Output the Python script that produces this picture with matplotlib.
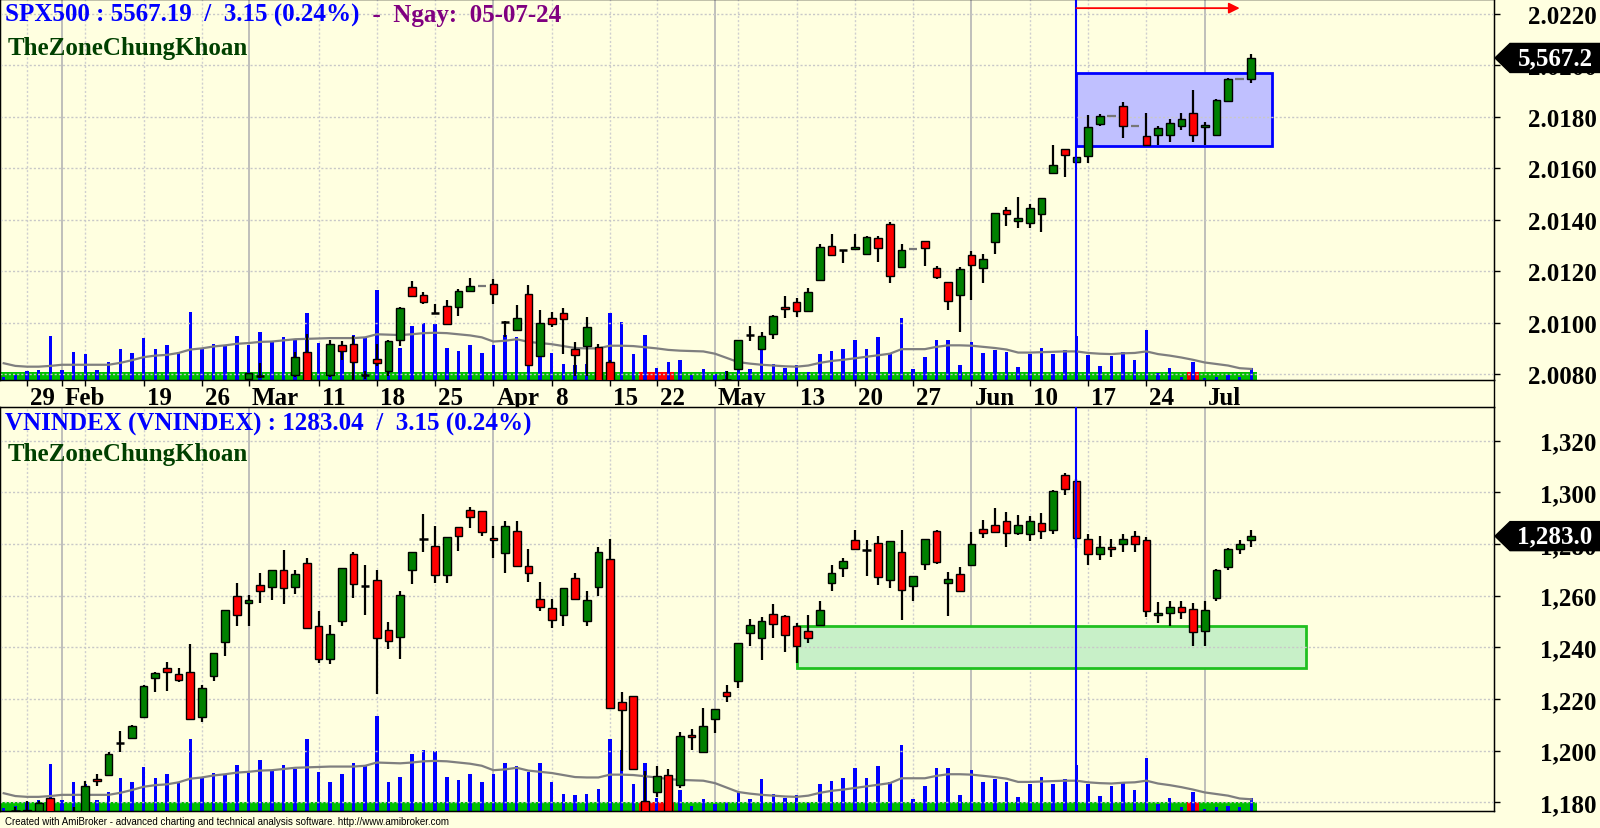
import numpy as np
import pandas as pd
import matplotlib
matplotlib.use("Agg")
import matplotlib.pyplot as plt
import matplotlib.transforms as mtransforms
from matplotlib.patches import Rectangle, Polygon
from matplotlib.lines import Line2D

plt.rcParams['font.family'] = ['Liberation Serif', 'DejaVu Serif']

# ---------------- calendar (HOSE trading days) ----------------
vn_holidays = ['2024-02-08', '2024-02-09', '2024-02-12', '2024-02-13', '2024-02-14',
               '2024-04-18', '2024-04-29', '2024-04-30', '2024-05-01']
dates = pd.bdate_range('2024-01-25', '2024-07-05')
dates = dates[~dates.isin(pd.to_datetime(vn_holidays))]
bar_x = np.arange(len(dates)) - 2          # Jan 29 -> 0

tick_dates = ['2024-01-29', '2024-02-01', '2024-02-05', '2024-02-19', '2024-02-26', '2024-03-01',
              '2024-03-11', '2024-03-18', '2024-03-25', '2024-04-01', '2024-04-08', '2024-04-15',
              '2024-04-22', '2024-05-02', '2024-05-06', '2024-05-13', '2024-05-20', '2024-05-27',
              '2024-06-03', '2024-06-10', '2024-06-17', '2024-06-24', '2024-07-01']
tick_labels = ['29', 'Feb', '', '19', '26', 'Mar', '11', '18', '25', 'Apr', '8', '15', '22',
               'May', '', '13', '20', '27', 'Jun', '10', '17', '24', 'Jul']
month_starts = ['2024-02-01', '2024-03-01', '2024-04-01', '2024-05-02', '2024-06-03', '2024-07-01']

nan = np.nan
# ---------------- SPX500 (chart scale: 2.0 + value/10000) ----------------
spx_open = [nan]*21 + [78.1, 79.3, nan, nan, 79.6, 88.4, nan, 79.7, 91.3, 91.7, 79.7, 85.8, 81.3, 93.3,
    113.7, 110.7, 103.7, 106.6, 106.2, 112.2, 114.1, 115.0, 100.2, 97.2, 111.1, 87.1, 101.7, 103.6,
    89.7, 90.8, 90.4, 84.6] + [nan]*9 + [77.7, 81.9, 95.2, 89.7, 95.6, 105.9, 108.1, 104.6, 116.6,
    129.9, 128.2, 128.6, 126.7, 132.8, 138.3, 121.7, 128.6, 131.6, 121.1, 115.7, 110.7, 126.3, 121.1,
    131.2, 143.8, 139.6, 138.7, 142.2, 158.2, 167.5, 162.3, 164.6, 177.3, 180.3, 184.1, 176.3, 172.4,
    172.8, 172.8, 176.6, 181.4, 176.1, 172.8, 186.1, 194.7, 194.7]
spx_high = [nan]*21 + [80.4, 84.3, nan, nan, 88.6, 95.6, nan, 93.2, 92.7, 94.7, 81.2, 91.7, 93.2, 105.9,
    116.1, 111.8, 107.2, 108.8, 113.1, 117.2, 114.1, 116.9, 100.8, 106.8, 114.6, 104.9, 104.0, 105.7,
    92.3, 102.2, 91.7, 85.4] + [nan]*9 + [81.3, 93.2, 98.8, 96.5, 102.9, 110.2, 109.4, 113.3, 130.6,
    134.4, 128.2, 134.4, 133.8, 133.8, 139.2, 130.4, 128.6, 131.6, 122.1, 115.7, 121.5, 128.0, 126.6,
    142.6, 144.8, 148.7, 146.1, 148.6, 169.1, 167.5, 164.3, 180.7, 181.1, 180.3, 185.8, 176.3, 181.5,
    176.3, 179.2, 181.4, 190.6, 178.1, 186.9, 195.1, 194.7, 204.4]
spx_low = [nan]*21 + [78.1, 78.4, nan, nan, 78.8, 75.7, nan, 78.8, 85.6, 77.8, 78.1, 83.2, 79.3, 90.8,
    110.5, 107.2, 103.7, 99.4, 102.7, 111.8, 114.1, 107.2, 94.4, 97.2, 83.6, 87.1, 98.2, 87.8,
    79.3, 79.3, 75.3, 75.3] + [nan]*9 + [77.7, 81.9, 93.0, 89.7, 93.6, 101.8, 102.1, 104.6, 116.6,
    126.3, 123.1, 128.2, 126.7, 123.7, 115.4, 121.7, 128.6, 122.1, 116.9, 105.0, 96.5, 108.9, 115.3,
    126.7, 137.7, 136.7, 136.7, 135.3, 158.1, 156.5, 162.3, 161.9, 176.3, 180.3, 171.7, 176.3, 169.1,
    169.1, 170.3, 175.0, 170.3, 169.1, 172.4, 186.1, 194.7, 193.2]
spx_close = [nan]*21 + [80.4, 79.3, nan, nan, 86.7, 76.1, nan, 91.7, 89.1, 84.6, 79.7, 84.3, 92.7, 105.6,
    110.5, 108.1, 103.7, 99.4, 112.4, 114.1, 114.1, 111.1, 100.2, 101.7, 83.6, 99.8, 99.4, 101.4,
    87.4, 98.3, 75.7, 75.7] + [nan]*9 + [77.7, 93.2, 95.2, 94.9, 102.7, 105.3, 104.6, 111.8, 129.3,
    126.3, 128.2, 129.3, 133.2, 129.0, 118.0, 128.3, 128.6, 129.0, 117.6, 108.5, 120.8, 122.5, 124.7,
    142.6, 142.2, 140.6, 144.4, 148.6, 161.4, 165.3, 164.3, 176.2, 180.3, 180.3, 176.3, 176.3, 169.1,
    175.5, 177.6, 179.2, 172.8, 176.8, 186.4, 194.7, 194.7, 202.9]

# ---------------- VNINDEX ----------------
vn_open = [nan, 1176.7, 1177.1, 1176.6, 1181.6, nan, 1175.0, 1174.5, 1189.1, 1190.8, 1203.0, 1204.8,
    1213.2, 1228.0, 1231.9, 1229.7, 1230.6, 1213.0, 1229.1, 1242.0, 1259.8, 1257.1, 1264.3, 1263.2,
    1270.0, 1263.2, 1272.5, 1248.4, 1235.5, 1250.3, 1276.1, 1263.9, 1266.2, 1246.6, 1244.1, 1270.1,
    1281.9, 1279.1, 1268.1, 1286.5, 1293.3, 1292.9, 1282.3, 1276.4, 1285.1, 1271.6, 1258.7, 1255.1,
    1252.6, 1266.7, 1250.1, 1263.2, 1274.2, 1218.8, 1221.3, 1180.7, 1183.9, 1190.6, 1186.8, 1206.2,
    1199.7, 1212.3, 1222.6, 1227.1, 1245.6, 1243.6, 1252.9, 1252.0, 1248.2, 1246.2, 1248.7, 1264.9,
    1270.6, 1281.5, 1277.8, 1280.4, 1266.1, 1276.8, 1263.6, 1272.3, 1284.9, 1264.8, 1268.4, 1272.0,
    1285.8, 1287.4, 1288.8, 1284.1, 1284.0, 1288.0, 1285.5, 1306.5, 1304.5, 1282.0, 1276.0, 1279.0,
    1280.0, 1283.0, 1281.5, 1252.6, 1253.2, 1255.8, 1255.0, 1246.2, 1259.0, 1271.0, 1278.0, 1281.5]
vn_high = [nan, 1178.3, 1180.7, 1180.7, 1181.6, nan, 1178.1, 1188.4, 1191.0, 1199.7, 1207.5, 1210.1,
    1225.6, 1230.6, 1234.5, 1232.0, 1241.3, 1225.5, 1237.8, 1254.6, 1264.8, 1260.3, 1268.7, 1270.1,
    1277.7, 1270.1, 1274.5, 1254.2, 1248.7, 1270.7, 1276.8, 1271.9, 1270.1, 1249.7, 1261.7, 1276.8,
    1291.6, 1286.8, 1282.6, 1286.5, 1294.2, 1292.9, 1286.8, 1289.0, 1289.0, 1278.1, 1265.4, 1258.7,
    1262.9, 1268.8, 1261.9, 1278.7, 1281.9, 1222.6, 1221.3, 1192.3, 1194.2, 1193.0, 1207.4, 1208.4,
    1216.6, 1216.2, 1225.6, 1241.7, 1251.0, 1251.6, 1256.8, 1252.6, 1249.4, 1252.6, 1257.8, 1271.9,
    1274.5, 1285.4, 1281.5, 1283.2, 1281.3, 1285.4, 1267.5, 1281.9, 1285.5, 1269.1, 1271.0, 1284.5,
    1289.4, 1293.9, 1292.3, 1291.3, 1291.0, 1292.0, 1301.0, 1307.3, 1305.0, 1284.0, 1283.0, 1282.0,
    1284.0, 1285.0, 1282.7, 1257.5, 1258.0, 1258.0, 1257.0, 1258.0, 1270.5, 1278.5, 1281.5, 1285.5]
vn_low = [nan, 1175.2, 1175.5, 1175.5, 1174.5, nan, 1174.0, 1174.0, 1186.3, 1190.8, 1199.4, 1204.8,
    1213.2, 1222.9, 1223.3, 1226.7, 1212.3, 1211.0, 1226.9, 1236.8, 1248.2, 1248.2, 1257.2, 1258.3,
    1256.8, 1260.7, 1247.5, 1234.0, 1233.6, 1248.2, 1259.1, 1252.6, 1222.0, 1239.4, 1235.5, 1264.5,
    1276.8, 1264.9, 1264.9, 1277.4, 1286.1, 1283.2, 1274.5, 1268.8, 1271.6, 1265.4, 1254.2, 1247.4,
    1248.2, 1258.7, 1248.4, 1259.8, 1216.6, 1192.3, 1192.9, 1175.5, 1182.0, 1175.5, 1185.5, 1200.3,
    1199.1, 1206.8, 1218.8, 1224.3, 1240.7, 1235.2, 1243.6, 1238.1, 1233.8, 1241.6, 1248.7, 1261.7,
    1267.1, 1278.1, 1267.7, 1264.3, 1262.9, 1250.7, 1257.8, 1270.0, 1272.3, 1252.3, 1261.7, 1272.0,
    1282.3, 1284.8, 1279.0, 1283.6, 1281.0, 1282.0, 1284.0, 1299.0, 1278.5, 1272.0, 1274.0, 1275.0,
    1277.0, 1277.0, 1251.6, 1249.5, 1248.4, 1251.0, 1240.7, 1240.7, 1258.1, 1270.0, 1276.0, 1279.0]
vn_close = [nan, 1176.7, 1176.2, 1179.9, 1175.0, nan, 1174.5, 1186.3, 1188.4, 1198.8, 1203.0, 1209.7,
    1225.0, 1230.1, 1230.4, 1227.5, 1212.3, 1224.2, 1237.8, 1254.6, 1252.6, 1258.3, 1261.7, 1270.1,
    1262.9, 1268.4, 1247.5, 1235.5, 1245.2, 1270.7, 1264.5, 1263.9, 1243.6, 1242.6, 1260.3, 1276.8,
    1281.9, 1268.1, 1282.6, 1283.2, 1290.3, 1284.5, 1281.7, 1287.1, 1271.6, 1268.7, 1255.5, 1250.6,
    1262.9, 1258.7, 1258.3, 1276.8, 1216.6, 1215.9, 1192.9, 1176.2, 1190.1, 1176.8, 1205.6, 1205.2,
    1209.5, 1216.2, 1221.3, 1241.7, 1248.7, 1250.3, 1249.1, 1244.9, 1240.4, 1243.5, 1254.5, 1268.8,
    1273.3, 1278.1, 1277.8, 1267.1, 1281.3, 1262.2, 1267.5, 1281.9, 1272.9, 1266.5, 1261.7, 1280.0,
    1284.1, 1284.8, 1284.1, 1287.5, 1289.0, 1285.0, 1300.5, 1301.3, 1282.3, 1276.0, 1279.0, 1278.0,
    1282.0, 1280.0, 1254.2, 1253.2, 1255.6, 1253.6, 1245.8, 1254.6, 1270.0, 1278.0, 1280.0, 1283.04]

# ---------------- volume (shared by both panes) ----------------
volume = [53, 96, 184, 208, 928, 216, 584, 536, 216, 384, 656, 568, 880, 656, 736, 584, 1432, 648,
    752, 736, 920, 744, 1008, 800, 912, 840, 1416, 776, 584, 736, 952, 912, 1888, 568, 680, 1128,
    1200, 1184, 680, 608, 728, 568, 736, 952, 896, 776, 952, 568, 336, 320, 336, 432, 1416, 1216,
    536, 952, 248, 384, 416, 104, 240, 136, 184, 384, 240, 632, 336, 256, 320, 168, 536, 600, 648,
    848, 648, 896, 568, 1304, 240, 488, 848, 848, 320, 808, 568, 624, 584, 280, 544, 672, 544, 632,
    920, 528, 304, 496, 584, 416, 1056, 144, 248, 72, 384, 32, 72, 104, 72, 248]
volume_ma = [352, 296, 280, 280, 296, 320, 320, 320, 320, 320, 360, 416, 480, 512, 528, 568, 640,
    664, 704, 728, 760, 776, 800, 808, 832, 856, 864, 872, 880, 880, 880, 896, 960, 952, 944, 960,
    984, 992, 984, 960, 936, 896, 808, 824, 856, 800, 776, 752, 712, 672, 664, 664, 720, 720, 712,
    688, 664, 632, 616, 608, 600, 552, 464, 376, 344, 320, 304, 288, 280, 304, 360, 400, 424, 456,
    488, 520, 552, 648, 648, 648, 696, 728, 728, 720, 696, 672, 640, 576, 576, 584, 592, 600, 600,
    568, 552, 544, 560, 568, 600, 544, 512, 472, 424, 368, 336, 304, 248, 232]
band_red_dates = ['2024-04-19', '2024-04-22', '2024-04-23', '2024-06-28']

# annotations
event_date = '2024-06-14'
spx_box = dict(x1=106.8, lo=168.8, hi=196.9)
vn_box = dict(x0=66, x1=109.7, lo=1231.9, hi=1248.4)
arrow_end = 104

# ---------------- styling ----------------
BG = '#ffffe0'
GREEN = '#008000'
RED = '#ff0000'
W, H = 1600, 829
def fx(px): return px / W
def fy(py): return 1 - py / H

fig = plt.figure(figsize=(W / 100, H / 100), dpi=100, facecolor=BG)
XL = (-2.316, 125.81)
VOL_MAX = 8000
band_red = np.isin(dates, pd.to_datetime(band_red_dates))
tick_x = [bar_x[dates.get_loc(pd.Timestamp(d))] for d in tick_dates]
tick_solid = [d in month_starts for d in tick_dates]
event_x = bar_x[dates.get_loc(pd.Timestamp(event_date))]


def panel(rect, o, h, l, c, ylim, yticks, fmt, marker_text):
    o, h, l, c = map(np.asarray, (o, h, l, c))
    axv = fig.add_axes(rect)
    axv.set_facecolor(BG)
    axv.set_xlim(XL)
    axv.set_ylim(0, VOL_MAX)
    axv.tick_params(left=False, labelleft=False)
    for xi, solid in zip(tick_x, tick_solid):
        axv.axvline(xi, color='#b4b4b4' if solid else '#cfcfcf', lw=1.2 if solid else 1.0,
                    ls='-' if solid else (0, (1.5, 1.5)), zorder=0.5)
    tr = mtransforms.blended_transform_factory(axv.transData, axv.transAxes)
    for xi, red in zip(bar_x, band_red):
        axv.add_patch(Rectangle((xi - 0.5, 0), 1, 0.022, transform=tr,
                                fc=RED if red else '#00c000', ec='none', zorder=1))
    axv.bar(bar_x, volume, width=0.3, color='#0000ff', zorder=2)
    axv.plot(bar_x, volume_ma, color='#7f7f7f', lw=1.6, zorder=3)
    for s in axv.spines.values():
        s.set_color('black'); s.set_linewidth(1)

    ax = axv.twinx()
    ax.set_ylim(ylim)
    ax.set_xlim(XL)
    ax.set_axisbelow(True)
    ax.yaxis.grid(True, color='#c8c8c8', ls=(0, (1.5, 1.5)), lw=1)
    ax.set_yticks(yticks)
    ax.set_yticklabels([fmt(v) for v in yticks])
    ax.tick_params(axis='y', direction='out', length=4, width=1, pad=70, labelsize=18)
    for lb in ax.get_yticklabels():
        lb.set_ha('right'); lb.set_fontweight('bold')

    valid = ~np.isnan(o)
    flat = valid & (h == l)
    doji = valid & ~flat & (np.abs(c - o) < 0.05)
    body = valid & ~flat & ~doji
    ax.vlines(bar_x[valid & ~flat], l[valid & ~flat], h[valid & ~flat], color='black', lw=1.6, zorder=3)
    cols = np.where(c[body] >= o[body], GREEN, RED)
    ax.bar(bar_x[body], (c - o)[body], bottom=o[body], width=0.66, color=cols,
           edgecolor='black', linewidth=1.0, zorder=4)
    ax.hlines(c[doji], bar_x[doji] - 0.36, bar_x[doji] + 0.36, color='black', lw=1.8, zorder=4)
    ax.hlines(c[flat], bar_x[flat] - 0.36, bar_x[flat] + 0.36, color='#777777', lw=1.6, zorder=4)
    ax.axvline(event_x, color='#0000ff', lw=1.5, zorder=5)

    # last-price marker
    last = c[valid][-1]
    tr_m = mtransforms.Affine2D() + mtransforms.ScaledTranslation(1.0, last, ax.get_yaxis_transform())
    poly = Polygon([(1, 0), (16, 14.5), (106, 14.5), (106, -14.5), (16, -14.5)], closed=True,
                   transform=tr_m, fc='black', ec='black', clip_on=False, zorder=20)
    ax.add_patch(poly)
    ax.annotate(marker_text, xy=(1.0, last), xycoords=ax.get_yaxis_transform(), xytext=(61, 0),
                textcoords='offset pixels', ha='center', va='center', color='white',
                fontsize=18, fontweight='bold', annotation_clip=False, zorder=21)
    return axv, ax


top_rect = [0, fy(381), fx(1494), 381 / H]
bot_rect = [0, fy(812), fx(1494), 404 / H]

axv1, ax1 = panel(top_rect, spx_open, spx_high, spx_low, spx_close, (77.67, 225.83),
                  [80, 100, 120, 140, 160, 180, 200, 220], lambda v: f"{2 + v / 1e4:.4f}", '5,567.2')
axv2, ax2 = panel(bot_rect, vn_open, vn_high, vn_low, vn_close, (1176.7, 1333.0),
                  [1180, 1200, 1220, 1240, 1260, 1280, 1300, 1320], lambda v: f"{v:,.0f}", '1,283.0')

# date axis under the top pane
axv1.set_xticks(tick_x)
axv1.set_xticklabels(tick_labels, fontsize=18, fontweight='bold', ha='left')
axv1.tick_params(axis='x', direction='out', length=4, width=1, pad=0.5)
off = mtransforms.ScaledTranslation(3 / 100, 0, fig.dpi_scale_trans)
for lb in axv1.get_xticklabels():
    lb.set_transform(lb.get_transform() + off)
axv2.set_xticks([])

# boxes and arrow
ax1.add_patch(Rectangle((event_x, spx_box['lo']), spx_box['x1'] - event_x, spx_box['hi'] - spx_box['lo'],
                        fc='#c0c0ff', ec='#0000ff', lw=2, zorder=0.4))
ax2.add_patch(Rectangle((vn_box['x0'], vn_box['lo']), vn_box['x1'] - vn_box['x0'], vn_box['hi'] - vn_box['lo'],
                        fc='#c8f0c8', ec='#20c020', lw=2, zorder=0.4))
tr_a = mtransforms.blended_transform_factory(ax1.transData, ax1.transAxes)
ax1.annotate('', xy=(arrow_end, 0.976), xycoords=tr_a, xytext=(event_x, 0.976), textcoords=tr_a,
             arrowprops=dict(arrowstyle='-|>', color='#ff0000', lw=1.3, mutation_scale=16,
                             shrinkA=0, shrinkB=0), zorder=6)

fig.add_artist(Line2D([fx(1494)] * 2, [fy(408), fy(381)], color='black', lw=1))

# titles
def title(y_px, main, tail):
    t1 = fig.text(fx(5), fy(y_px), main, color='#0000ff', fontsize=18, fontweight='bold', va='baseline')
    ax1.annotate(tail, xy=(1, 0), xycoords=t1, xytext=(0, 0), textcoords='offset points',
                 va='bottom', ha='left', color='#800080', fontsize=18, fontweight='bold',
                 annotation_clip=False)

title(22, 'SPX500 : 5567.19  /  3.15 (0.24%)', '  -  Ngay:  05-07-24')
fig.text(fx(8), fy(55), 'TheZoneChungKhoan', color='#004000', fontsize=18, fontweight='bold', va='baseline')
title(431, 'VNINDEX (VNINDEX) : 1283.04  /  3.15 (0.24%)', '  -  Ngay:  05-07-24')
fig.text(fx(8), fy(461), 'TheZoneChungKhoan', color='#004000', fontsize=18, fontweight='bold', va='baseline')

fig.text(fx(5), fy(825), 'Created with AmiBroker - advanced charting and technical analysis software. '
         'http://www.amibroker.com', fontsize=7, color='black', va='baseline',
         family=['Liberation Sans Narrow', 'Liberation Sans', 'DejaVu Sans'])

fig.savefig('out.png', dpi=100, facecolor=BG)
